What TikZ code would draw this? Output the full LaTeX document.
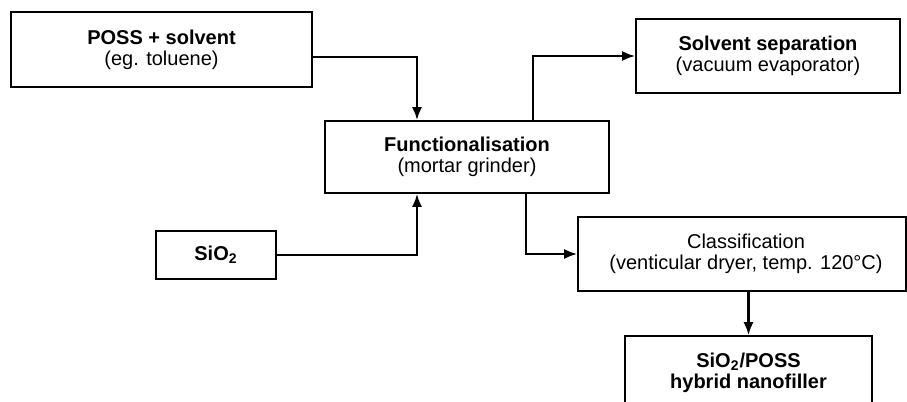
\documentclass[tikz,border=0pt]{standalone}
\usepackage{fontspec}
\setmainfont{Liberation Sans}
\usepackage{xcolor}
\usepackage{tikz}
\usetikzlibrary{arrows.meta, positioning, calc}
\tikzset{
  % Plain process box
  pbox/.style={
    rectangle, draw=black, line width=0.8pt,
    fill=white, align=center,
    font=\fontsize{10}{10.5}\selectfont,
    inner sep=2pt
  },
  % Arrows
  arr/.style={-{Latex[length=6.5pt,width=5pt]}, line width=1.1pt, black},
}

\begin{document}
\begin{tikzpicture}[x=0.5pt, y=-0.5pt]

  \useasboundingbox (0,0) rectangle (907,402);
  \clip (0,0) rectangle (907,402);

  %% Boxes
  \node[pbox, minimum width=150.5pt, minimum height=37.5pt] (poss) at (161.5,49.5)
    {\textbf{POSS + solvent}\\(eg. toluene)};

  \node[pbox, minimum width=142pt, minimum height=36pt] (func) at (467,157)
    {\textbf{Functionalisation}\\(mortar grinder)};

  \node[pbox, minimum width=132pt, minimum height=37pt] (solv) at (768,56)
    {\textbf{Solvent separation}\\(vacuum evaporator)};

  \node[pbox, minimum width=60pt, minimum height=24pt] (sio) at (216,255)
    {\textbf{SiO\textsubscript{2}}};

  \node[pbox, minimum width=164pt, minimum height=37pt] (class) at (742,254)
    {\hspace*{4pt}Classification\\\hspace*{4pt}(venticular dryer, temp. 120°C)};

  \node[pbox, minimum width=123.5pt, minimum height=37pt] (hybrid) at (748.5,373)
    {\textbf{SiO\textsubscript{2}/POSS}\\\textbf{hybrid nanofiller}};

  %% Connectors
  \draw[arr] ([yshift=-3.75pt]poss.east) -| ([xshift=-25pt]func.north);
  \draw[arr] (sio.east) -| ([xshift=-25pt]func.south);
  \draw[arr] ([xshift=33pt]func.north) |- (solv.west);
  \draw[arr] ([xshift=29.5pt]func.south) |- (class.west);
  \draw[arr] (class.south -| hybrid.north) -- (hybrid.north);

\end{tikzpicture}
\end{document}
